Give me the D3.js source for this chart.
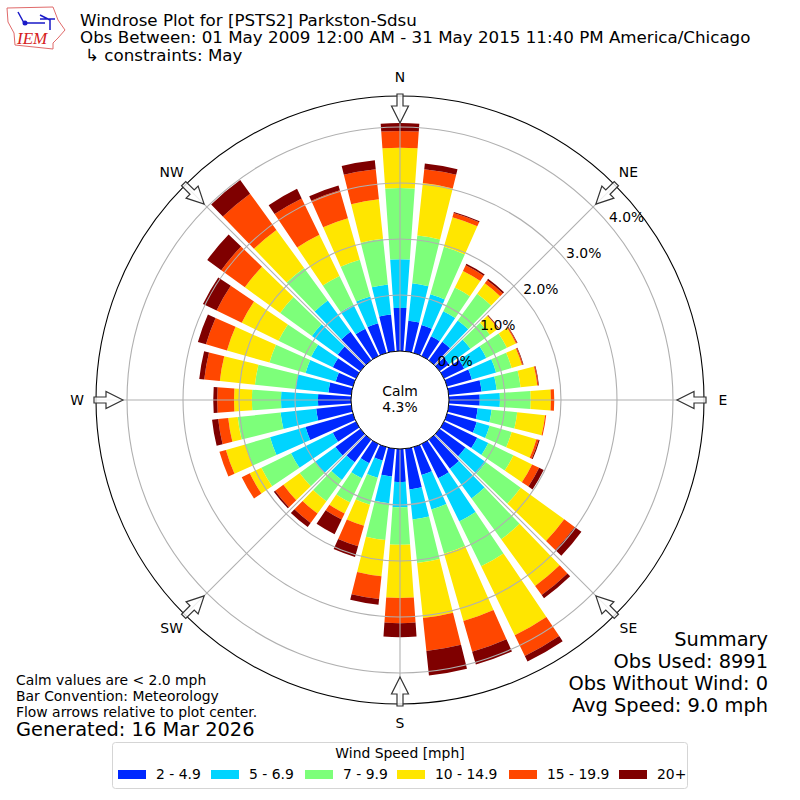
<!DOCTYPE html>
<html>
<head>
<meta charset="utf-8">
<script src="https://cdn.jsdelivr.net/npm/d3@7"></script>
<style>
  html, body { margin: 0; padding: 0; background: #fff; }
  svg { display: block; }
  text { font-family: "DejaVu Sans", sans-serif; fill: #000; }
</style>
</head>
<body>
<div id="chart"></div>
<script>
const directions = d3.range(0, 360, 10)

// percent of obs in each speed bin, one value per direction starting from N
const speed2to5 = [.77,.55,.52,.39,.41,.21,.40,.46,.59,.55,.52,.55,.66,.57,.64,.68,.52,.73,.59,.50,.25,.38,.50,.55,.46,.88,.63,.59,.41,.32,.46,.50,.63,.54,.55,.66]
const speed5to7 = [.87,.67,.57,.50,.47,.47,.44,.45,.27,.36,.25,.24,.22,.45,.66,.86,.64,.54,.45,.48,.32,.30,.39,.45,.83,.66,.64,.66,.59,.56,.43,.57,.69,.48,.50,.54]
const speed7to10 = [1.27,.86,.88,.47,.59,.43,.41,.29,.43,.55,.46,.41,.50,.77,.90,.89,.82,.78,.67,.66,.50,.48,.47,.34,.59,.46,.77,.52,.73,.67,.65,.70,.72,.57,.68,.82]
const speed10to15 = [.72,.94,.55,.33,.23,.18,.18,.19,.30,.36,.50,.46,.37,.96,1.03,1.37,1.25,.99,.95,.65,.39,.22,.27,.36,.23,.36,.17,.32,.63,.79,.73,.78,.84,.82,.77,.71]
const speed15to20 = [.30,.25,.08,.11,.07,.01,.02,.02,.02,.06,.02,.04,.14,.23,.20,.41,.57,.59,.45,.41,.38,.12,.21,.18,.16,.12,.18,.30,.28,.39,.50,.52,.80,.72,.52,.54]
const speed20up = [.14,.10,.02,.03,.03,.01,.01,.01,.01,.00,.00,.02,.09,.15,.07,.11,.24,.44,.25,.10,.20,.29,.09,.03,.00,.00,.11,.07,.09,.15,.27,.31,.30,.19,.09,.16]

const speedSeries = [speed2to5, speed5to7, speed7to10, speed10to15, speed15to20, speed20up]
const speedLabels = ["2 - 4.9", "5 - 6.9", "7 - 9.9", "10 - 14.9", "15 - 19.9", "20+"]
const speedColors = ["#0028ff", "#00d4ff", "#7dff7a", "#ffe600", "#ff4700", "#7f0000"]

const ringTicks = [0, 1, 2, 3, 4]
const compassAngles = [0, 45, 90, 135, 180, 225, 270, 315]
const compassLabels = ["N", "NE", "E", "SE", "S", "SW", "W", "NW"]

const summaryLines = ["Summary", "Obs Used: 8991", "Obs Without Wind: 0", "Avg Speed: 9.0 mph"]
const noteLines = ["Calm values are < 2.0 mph", "Bar Convention: Meteorology", "Flow arrows relative to plot center."]

const legendPatchX = [118, 211, 305, 397, 509, 619]

const svg = d3.select("#chart").append("svg").attr("width", 800).attr("height", 800)

const cx = 400, cy = 400
const r = d3.scaleLinear().domain([0, 4.554]).range([49, 304])
const ang = d3.scaleLinear().domain([0, 360]).range([0, 2 * Math.PI])
const barWidth = 8

const rows = directions.map((d, i) => {
    const row = { dir: d }
    speedLabels.forEach((s, k) => { row[s] = speedSeries[k][i] })
    return row
})
const stacked = d3.stack().keys(speedLabels)(rows)

const g = svg.append("g").attr("transform", `translate(${cx}, ${cy})`)

const arc = d3.arc()
    .innerRadius((d) => r(d[0]))
    .outerRadius((d) => r(d[1]))
    .startAngle((d) => ang(d.data.dir - barWidth / 2))
    .endAngle((d) => ang(d.data.dir + barWidth / 2))

g.selectAll("g.speed")
    .data(stacked)
    .enter()
    .append("g")
    .attr("class", "speed")
    .attr("fill", (d, i) => speedColors[i])
    .selectAll("path")
    .data((d) => d.filter((v) => v[1] > v[0]))
    .enter()
    .append("path")
    .attr("d", arc)

// grid sits on top of the bars
g.selectAll("circle.ring")
    .data(ringTicks.slice(1))
    .enter()
    .append("circle")
    .attr("class", "ring")
    .attr("r", (d) => r(d))
    .attr("fill", "none")
    .attr("stroke", "#b0b0b0")
    .attr("stroke-width", 1.1)

const polar = (deg, rad) => {
    const a = ang(deg)
    return [rad * Math.sin(a), -rad * Math.cos(a)]
}

g.selectAll("line.spoke")
    .data(compassAngles)
    .enter()
    .append("line")
    .attr("class", "spoke")
    .attr("x1", (d) => polar(d, 49)[0])
    .attr("y1", (d) => polar(d, 49)[1])
    .attr("x2", (d) => polar(d, 304)[0])
    .attr("y2", (d) => polar(d, 304)[1])
    .attr("stroke", "#b0b0b0")
    .attr("stroke-width", 1.1)

g.append("circle")
    .attr("r", r(0))
    .attr("fill", "#fff")
    .attr("stroke", "#000")
    .attr("stroke-width", 1)

g.append("circle")
    .attr("r", r.range()[1])
    .attr("fill", "none")
    .attr("stroke", "#000")
    .attr("stroke-width", 1.1)

// inward flow arrows, drawn pointing at the center from the north then rotated
const arrowPath = "M0,-277 L8.5,-294 L3,-294 L3,-306 L-3,-306 L-3,-294 L-8.5,-294 Z"
g.selectAll("path.arrow")
    .data(compassAngles)
    .enter()
    .append("path")
    .attr("class", "arrow")
    .attr("d", arrowPath)
    .attr("transform", (d) => `rotate(${d})`)
    .attr("fill", "#fff")
    .attr("fill-opacity", 0.8)
    .attr("stroke", "#333")
    .attr("stroke-width", 1.2)

g.selectAll("text.compass")
    .data(compassAngles)
    .enter()
    .append("text")
    .attr("class", "compass")
    .attr("x", (d, i) => polar(d, 323)[0])
    .attr("y", (d, i) => polar(d, 323)[1] + 5)
    .attr("text-anchor", "middle")
    .attr("font-size", 13.9)
    .text((d, i) => compassLabels[i])

g.selectAll("text.rlabel")
    .data(ringTicks)
    .enter()
    .append("text")
    .attr("class", "rlabel")
    .attr("x", (d) => polar(50, r(d))[0] + 17.5)
    .attr("y", (d) => polar(50, r(d))[1] - 2.5)
    .attr("text-anchor", "middle")
    .attr("font-size", 13.9)
    .text((d) => d.toFixed(1) + "%")

g.append("text").attr("y", -4).attr("text-anchor", "middle").attr("font-size", 13.9).text("Calm")
g.append("text").attr("y", 12).attr("text-anchor", "middle").attr("font-size", 13.9).text("4.3%")

// titles
const titles = svg.append("g").attr("font-size", 16.7)
titles.append("text").attr("x", 80).attr("y", 26).text("Windrose Plot for [PSTS2] Parkston-Sdsu")
titles.append("text").attr("x", 80).attr("y", 43).text("Obs Between: 01 May 2009 12:00 AM - 31 May 2015 11:40 PM America/Chicago")
titles.append("text").attr("x", 85).attr("y", 61).text("\u21b3 constraints: May")

// iem logo
const logo = svg.append("g")
logo.append("path")
    .attr("d", "M7,8 L53,7 L58,20 L65,30 L58,38 L53,43 L53,49 L15,45 L14,33 L8,22 Z")
    .attr("fill", "none")
    .attr("stroke", "#e06a6a")
    .attr("stroke-width", 1)
logo.append("path")
    .attr("d", "M18,12 L24,23 M24,23 L45,23 M40,15 L50,20 M40,19 L55,19 M50,19 L50,30")
    .attr("fill", "none")
    .attr("stroke", "#1a1ac8")
    .attr("stroke-width", 1.5)
logo.append("circle").attr("cx", 25).attr("cy", 23).attr("r", 2.5).attr("fill", "#1a1ac8")
logo.append("text")
    .attr("x", 17)
    .attr("y", 44)
    .attr("font-size", 17)
    .attr("font-style", "italic")
    .style("font-family", "'Liberation Serif', serif")
    .style("fill", "#d62020")
    .text("IEM")

// summary block
svg.append("g")
    .selectAll("text")
    .data(summaryLines)
    .enter()
    .append("text")
    .attr("x", 768)
    .attr("y", (d, i) => 646 + i * 22)
    .attr("text-anchor", "end")
    .attr("font-size", 19.4)
    .text((d) => d)

svg.append("g")
    .selectAll("text")
    .data(noteLines)
    .enter()
    .append("text")
    .attr("x", 16)
    .attr("y", (d, i) => 685 + i * 16.2)
    .attr("font-size", 13.9)
    .text((d) => d)

svg.append("text").attr("x", 16).attr("y", 736).attr("font-size", 19.4).text("Generated: 16 Mar 2026")

// legend
const legend = svg.append("g")
legend.append("rect")
    .attr("x", 112.5)
    .attr("y", 742.5)
    .attr("width", 575)
    .attr("height", 46)
    .attr("rx", 3)
    .attr("fill", "#fff")
    .attr("stroke", "#d5d5d5")
legend.append("text")
    .attr("x", 400)
    .attr("y", 758)
    .attr("text-anchor", "middle")
    .attr("font-size", 13.9)
    .text("Wind Speed [mph]")
const legendItems = legend.selectAll("g.item")
    .data(speedLabels)
    .enter()
    .append("g")
    .attr("class", "item")
legendItems.append("rect")
    .attr("x", (d, i) => legendPatchX[i])
    .attr("y", 770)
    .attr("width", 28)
    .attr("height", 9)
    .attr("fill", (d, i) => speedColors[i])
legendItems.append("text")
    .attr("x", (d, i) => legendPatchX[i] + 38)
    .attr("y", 779)
    .attr("font-size", 13.9)
    .text((d) => d)
</script>
</body>
</html>
